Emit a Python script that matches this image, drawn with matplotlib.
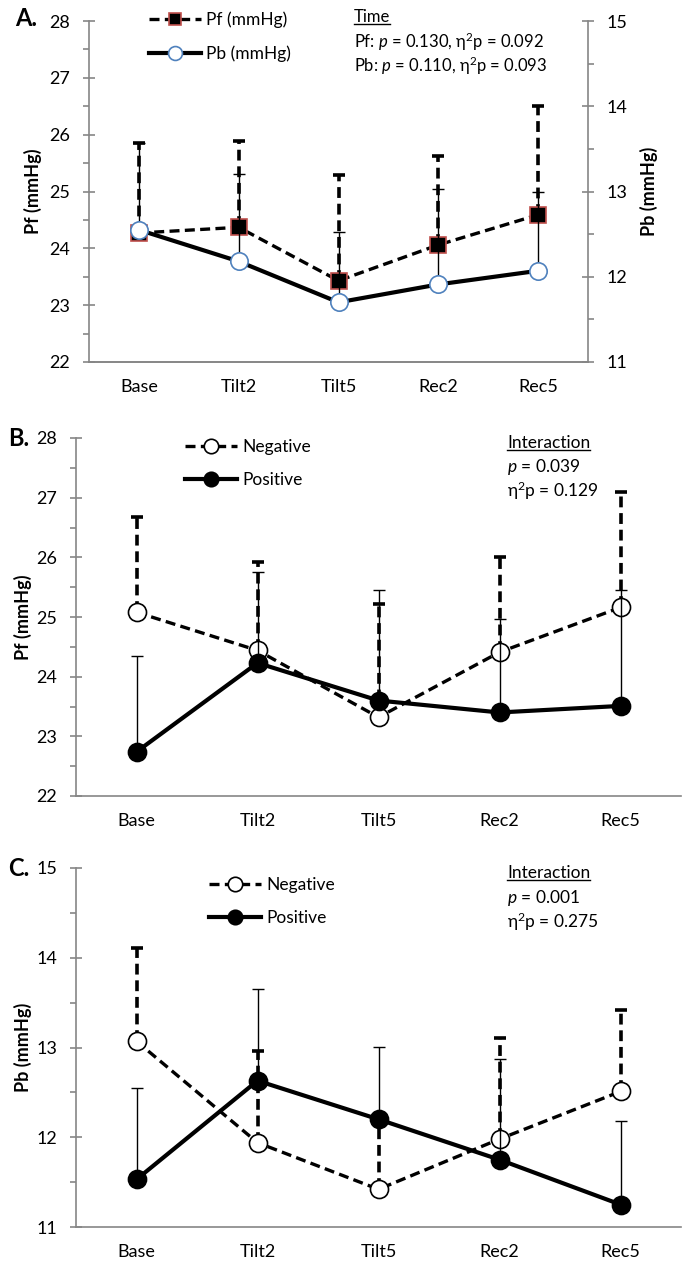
import numpy as np
import matplotlib.pyplot as plt
from matplotlib.lines import Line2D
from matplotlib.ticker import MultipleLocator

plt.rcParams['font.family'] = ['Lato', 'DejaVu Sans']
plt.rcParams['mathtext.fontset'] = 'custom'
plt.rcParams['mathtext.rm'] = 'Lato'
plt.rcParams['mathtext.it'] = 'Lato:italic'

times = ['Base', 'Tilt2', 'Tilt5', 'Rec2', 'Rec5']

# A. whole group (mean, upward SD)
pf_mean = [24.27, 24.37, 23.43, 24.06, 24.59]
pf_sd = [1.59, 1.51, 1.86, 1.57, 1.92]
pb_mean = [12.55, 12.18, 11.70, 11.91, 12.07]
pb_sd = [1.02, 1.02, 0.82, 1.12, 0.92]

# B. Pf by group
pf_neg = [25.08, 24.44, 23.32, 24.41, 25.16]
pf_neg_sd = [1.60, 1.49, 1.89, 1.59, 1.93]
pf_pos = [22.74, 24.23, 23.60, 23.40, 23.51]
pf_pos_sd = [1.60, 1.52, 1.85, 1.57, 1.94]

# C. Pb by group
pb_neg = [13.07, 11.94, 11.42, 11.98, 12.51]
pb_neg_sd = [1.04, 1.02, 0.78, 1.13, 0.91]
pb_pos = [11.53, 12.63, 12.20, 11.75, 11.25]
pb_pos_sd = [1.02, 1.02, 0.81, 1.12, 0.93]

GREY = '#868686'
x = np.arange(len(times))


def style_y(ax, lo, hi, side='left'):
    ax.set_ylim(lo, hi)
    ax.yaxis.set_major_locator(MultipleLocator(1))
    ax.yaxis.set_minor_locator(MultipleLocator(0.5))
    ax.tick_params(axis='y', which='major', direction='inout', length=9,
                   width=1.2, color=GREY, labelsize=13, pad=9)
    ax.tick_params(axis='y', which='minor', direction='out', length=4,
                   width=1.2, color=GREY)
    for s in ax.spines.values():
        s.set_color(GREY)
        s.set_linewidth(1.2)
    ax.spines['top'].set_visible(False)
    if side == 'left':
        ax.spines['right'].set_visible(False)


def style_x(ax):
    ax.set_xlim(-0.5, len(times) - 0.5)
    ax.set_xticks(x)
    ax.set_xticklabels(times)
    ax.tick_params(axis='x', length=0, labelsize=13, pad=12)


def series(ax, y, err, dashed, marker, mfc, mec, ms, label, z):
    if dashed:
        eb = ax.errorbar(x, y, yerr=[np.zeros(len(y)), err], fmt='none',
                         ecolor='black', elinewidth=2.6, capsize=4,
                         capthick=2.6, zorder=z)
        eb[2][0].set_linestyle((0, (3, 1.6)))
        ls, lw = (0, (3, 1.6)), 2.4
    else:
        ax.errorbar(x, y, yerr=[np.zeros(len(y)), err], fmt='none',
                    ecolor='black', elinewidth=1.0, capsize=4.5,
                    capthick=1.0, zorder=z)
        ls, lw = '-', 3.0
    ax.plot(x, y, linestyle=ls, color='black', lw=lw, marker=marker,
            ms=ms, mfc=mfc, mec=mec, mew=1.2, label=label, zorder=z + 1)


fig = plt.figure(figsize=(6.85, 12.66), dpi=100)
H = 1266.0
W = 685.0

# ---- A ----
axA = fig.add_axes([89 / W, 1 - 362 / H, (588 - 89) / W, (362 - 21) / H])
axA2 = axA.twinx()
style_y(axA, 22, 28)
style_y(axA2, 11, 15, side='right')
axA2.spines['left'].set_visible(False)
style_x(axA)
axA.patch.set_visible(False)
series(axA, pf_mean, pf_sd, True, 's', 'black', '#C0504D', 11.5,
       'Pf (mmHg)', 3)
series(axA2, pb_mean, pb_sd, False, 'o', 'white', '#4F81BD', 12.5,
       'Pb (mmHg)', 3)
axA.set_ylabel('Pf (mmHg)', fontsize=13, fontweight='bold', labelpad=5)
axA2.set_ylabel('Pb (mmHg)', fontsize=13, fontweight='bold', labelpad=9)
hA = axA.get_legend_handles_labels()[0] + axA2.get_legend_handles_labels()[0]
lA = ['Pf (mmHg)', 'Pb (mmHg)']
axA2.legend(hA, lA, loc='upper left', bbox_to_anchor=(140 / W, 1 - 3 / H),
            bbox_transform=fig.transFigure, frameon=False, fontsize=12.5,
            handlelength=3.0, handletextpad=0.3, labelspacing=1.0,
            borderpad=0, markerscale=0.8)
fig.text(15 / W, 1 - 18 / H, 'A.', fontsize=17, fontweight='bold',
         va='center', ha='left')
tA = fig.text(354 / W, 1 - 17 / H, 'Time', fontsize=12, va='center')
fig.text(354 / W, 1 - 42 / H, r'Pf: $\it{p}$ = 0.130, η$^2$p = 0.092',
         fontsize=12, va='center')
fig.text(354 / W, 1 - 66 / H, r'Pb: $\it{p}$ = 0.110, η$^2$p = 0.093',
         fontsize=12, va='center')

# ---- B ----
axB = fig.add_axes([76 / W, 1 - 796 / H, (681 - 76) / W, (796 - 438) / H])
style_y(axB, 22, 28)
style_x(axB)
series(axB, pf_neg, pf_neg_sd, True, 'o', 'white', 'black', 13,
       'Negative', 3)
series(axB, pf_pos, pf_pos_sd, False, 'o', 'black', 'black', 13,
       'Positive', 5)
axB.set_ylabel('Pf (mmHg)', fontsize=13, fontweight='bold', labelpad=3)
axB.legend(loc='upper left', bbox_to_anchor=(176 / W, 1 - 430 / H),
           bbox_transform=fig.transFigure, frameon=False, fontsize=12.5,
           handlelength=3.0, handletextpad=0.3, labelspacing=1.0,
           borderpad=0, markerscale=0.8)
fig.text(8 / W, 1 - 438 / H, 'B.', fontsize=17, fontweight='bold',
         va='center', ha='left')
tB = fig.text(507 / W, 1 - 443 / H, 'Interaction', fontsize=12.5, va='center')
fig.text(507 / W, 1 - 467 / H, r'$\it{p}$ = 0.039', fontsize=12.5, va='center')
fig.text(507 / W, 1 - 491 / H, r'η$^2$p = 0.129', fontsize=12.5, va='center')

# ---- C ----
axC = fig.add_axes([76 / W, 1 - 1227 / H, (681 - 76) / W, (1227 - 868) / H])
style_y(axC, 11, 15)
style_x(axC)
series(axC, pb_neg, pb_neg_sd, True, 'o', 'white', 'black', 13,
       'Negative', 3)
series(axC, pb_pos, pb_pos_sd, False, 'o', 'black', 'black', 13,
       'Positive', 5)
axC.set_ylabel('Pb (mmHg)', fontsize=13, fontweight='bold', labelpad=3)
axC.legend(loc='upper left', bbox_to_anchor=(200 / W, 1 - 868 / H),
           bbox_transform=fig.transFigure, frameon=False, fontsize=12.5,
           handlelength=3.0, handletextpad=0.3, labelspacing=1.0,
           borderpad=0, markerscale=0.8)
fig.text(8 / W, 1 - 868 / H, 'C.', fontsize=17, fontweight='bold',
         va='center', ha='left')
tC = fig.text(507 / W, 1 - 873 / H, 'Interaction', fontsize=12.5, va='center')
fig.text(507 / W, 1 - 898 / H, r'$\it{p}$ = 0.001', fontsize=12.5, va='center')
fig.text(507 / W, 1 - 922 / H, r'η$^2$p = 0.275', fontsize=12.5, va='center')

# underline the headings
fig.canvas.draw()
inv = fig.transFigure.inverted()
for t in (tA, tB, tC):
    bb = t.get_window_extent()
    (x0, y0), (x1, y1) = inv.transform([[bb.x0, bb.y0], [bb.x1, bb.y1]])
    fig.add_artist(Line2D([x0, x1], [y0 + 0.0008, y0 + 0.0008],
                          color='black', lw=1.0))

fig.savefig('out.png', dpi=100)
